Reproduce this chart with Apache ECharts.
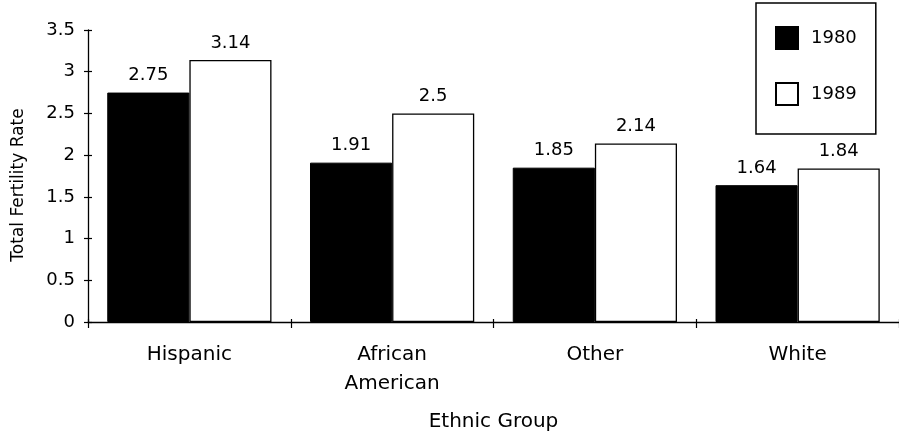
<!DOCTYPE html>
<html>
<head>
<meta charset="utf-8">
<script src="https://cdn.jsdelivr.net/npm/echarts@6/dist/echarts.min.js"></script>
<style>
  html, body { margin: 0; padding: 0; background: #fff; }
  #chart { width: 899px; height: 437px; }
</style>
</head>
<body>
<div id="chart"></div>
<script>
// Total fertility rate by ethnic group, 1980 vs 1989
const categories = ['Hispanic', 'African\nAmerican', 'Other', 'White'];
const rates1980 = [2.75, 1.91, 1.85, 1.64];
const rates1989 = [3.14, 2.5, 2.14, 1.84];
const seriesNames = ['1980', '1989'];
const yMin = 0, yMax = 3.5, yStep = 0.5;

const FONT = "'DejaVu Sans', sans-serif";

const chart = echarts.init(document.getElementById('chart'), null, { renderer: 'canvas' });

const labelStyle = {
  show: true,
  position: 'top',
  distance: 8,
  color: '#000',
  fontFamily: FONT,
  fontSize: 18
};

chart.setOption({
  animation: false,
  backgroundColor: '#fff',
  textStyle: { fontFamily: FONT, color: '#000' },
  grid: { left: 88, top: 30, width: 815, height: 295, containLabel: false },
  legend: {
    orient: 'vertical',
    left: 756,
    top: 3,
    padding: [23, 19, 28, 19],
    itemWidth: 22,
    itemHeight: 22,
    itemGap: 32,
    icon: 'rect',
    borderColor: '#000',
    borderWidth: 1.5,
    backgroundColor: '#fff',
    textStyle: { fontFamily: FONT, fontSize: 18, color: '#000', padding: [6, 0, 0, 8] },
    data: seriesNames
  },
  xAxis: [{
    type: 'category',
    data: categories,
    name: 'Ethnic Group',
    nameLocation: 'middle',
    nameGap: 90,
    nameTextStyle: { fontFamily: FONT, fontSize: 20, color: '#000' },
    axisLine: { lineStyle: { color: '#000', width: 1.3 } },
    axisTick: { show: true, length: 6, lineStyle: { color: '#000', width: 1.2 } },
    axisLabel: { fontFamily: FONT, fontSize: 20, color: '#000', margin: 18, lineHeight: 29 },
    splitLine: { show: false }
  }, {
    type: 'category',
    data: categories,
    position: 'bottom',
    axisLine: { show: false },
    axisTick: { show: true, inside: true, length: 3, lineStyle: { color: '#000', width: 1.2 } },
    axisLabel: { show: false },
    splitLine: { show: false }
  }],
  yAxis: [{
    type: 'value',
    min: yMin,
    max: yMax,
    interval: yStep,
    name: 'Total Fertility Rate',
    nameLocation: 'middle',
    nameGap: 61,
    nameRotate: 90,
    nameTextStyle: { fontFamily: FONT, fontSize: 17, color: '#000', padding: [0, 18, 0, 0] },
    axisLine: { show: true, lineStyle: { color: '#000', width: 1.3 } },
    axisTick: { show: true, length: 4, lineStyle: { color: '#000', width: 1.2 } },
    axisLabel: { fontFamily: FONT, fontSize: 18, color: '#000', margin: 13 },
    splitLine: { show: false }
  }, {
    type: 'value',
    min: yMin,
    max: yMax,
    interval: yStep,
    position: 'left',
    axisLine: { show: false },
    axisTick: { show: true, inside: true, length: 4, lineStyle: { color: '#000', width: 1.2 } },
    axisLabel: { show: false },
    splitLine: { show: false }
  }],
  series: [{
    name: seriesNames[0],
    type: 'bar',
    data: rates1980,
    barGap: '0%',
    barCategoryGap: '19%',
    itemStyle: { color: '#000', borderColor: '#000', borderWidth: 1 },
    label: labelStyle
  }, {
    name: seriesNames[1],
    type: 'bar',
    data: rates1989,
    itemStyle: { color: '#fff', borderColor: '#000', borderWidth: 1.3 },
    label: labelStyle
  }]
});
</script>
</body>
</html>
